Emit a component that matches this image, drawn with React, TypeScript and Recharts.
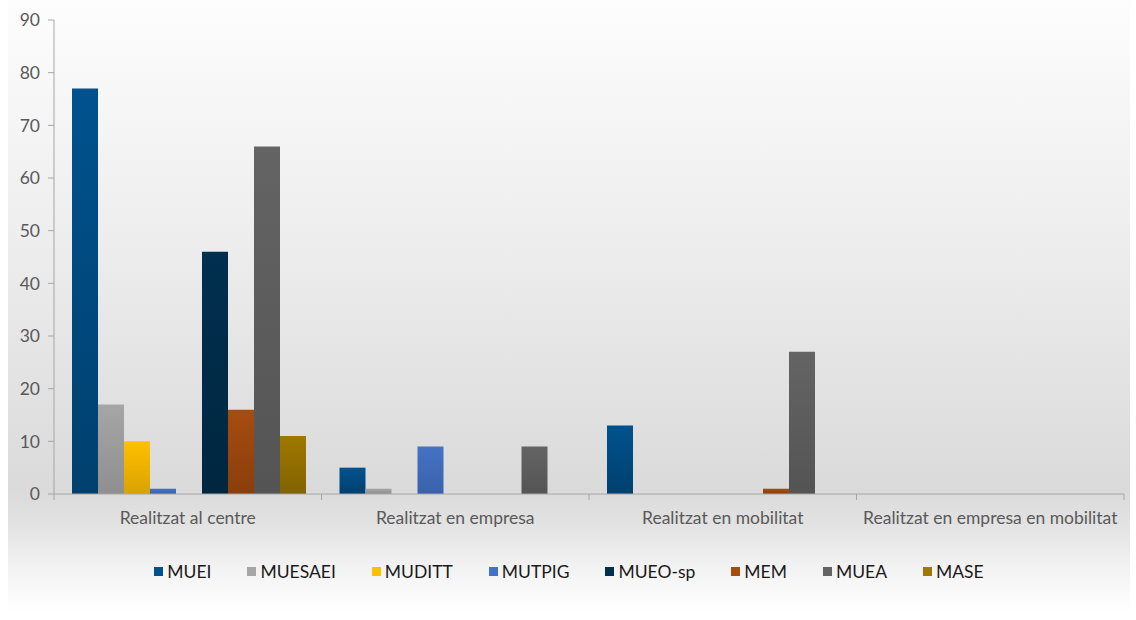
import React from 'react';
import { BarChart, Bar, XAxis, YAxis, Legend } from 'recharts';

const categories = ['Realitzat al centre', 'Realitzat en empresa', 'Realitzat en mobilitat', 'Realitzat en empresa en mobilitat'];
const seriesNames = ['MUEI', 'MUESAEI', 'MUDITT', 'MUTPIG', 'MUEO-sp', 'MEM', 'MUEA', 'MASE'];
const mueiValues = [77, 5, 13, 0];
const muesaeiValues = [17, 1, 0, 0];
const mudittValues = [10, 0, 0, 0];
const mutpigValues = [1, 9, 0, 0];
const blankValues = [0, 0, 0, 0]; // empty slot between MUTPIG and MUEO-sp in the original
const mueoValues = [46, 0, 0, 0];
const memValues = [16, 0, 1, 0];
const mueaValues = [66, 9, 27, 0];
const maseValues = [11, 0, 0, 0];
const yTicks = [0, 10, 20, 30, 40, 50, 60, 70, 80, 90];

const topColors = ['#00528e', '#a6a6a6', '#ffc000', '#4472c4', '#00304f', '#a64c10', '#646464', '#9e7800'];
const bottomColors = ['#00406e', '#8f8f8f', '#d9a200', '#3a62ab', '#002640', '#8a3e0b', '#545454', '#826300'];

const data = categories.map((name, i) => ({
  name,
  MUEI: mueiValues[i],
  MUESAEI: muesaeiValues[i],
  MUDITT: mudittValues[i],
  MUTPIG: mutpigValues[i],
  blank: blankValues[i],
  'MUEO-sp': mueoValues[i],
  MEM: memValues[i],
  MUEA: mueaValues[i],
  MASE: maseValues[i],
}));

const FONT = 'Lato, "Open Sans", sans-serif';
const AXIS_Y = 494;
const BAND = 267.5;

const CategoryTick = (props: any) => {
  const { x, payload, index } = props;
  return (
    <g>
      <line x1={x - BAND / 2} y1={AXIS_Y} x2={x - BAND / 2} y2={AXIS_Y + 6} stroke="#a6a6a6" />
      {index === categories.length - 1 && (
        <line x1={x + BAND / 2} y1={AXIS_Y} x2={x + BAND / 2} y2={AXIS_Y + 6} stroke="#a6a6a6" />
      )}
      <text x={x} y={AXIS_Y + 30} textAnchor="middle" fill="#595959" fontSize={17.5} fontFamily={FONT}>
        {payload.value}
      </text>
    </g>
  );
};

const LegendContent = () => (
  <div style={{ height: 86, display: 'flex', justifyContent: 'center', alignItems: 'flex-start', paddingTop: 27, paddingLeft: 14, boxSizing: 'border-box', fontFamily: FONT, fontSize: 17.5, color: '#1a1a1a' }}>
    {seriesNames.map((s, i) => (
      <div key={s} style={{ display: 'flex', alignItems: 'center', marginRight: i < seriesNames.length - 1 ? 36 : 0 }}>
        <span style={{ width: 9, height: 9, background: topColors[i], display: 'inline-block', marginRight: 4 }} />
        <span>{s}</span>
      </div>
    ))}
  </div>
);

export default function App() {
  const keys = ['MUEI', 'MUESAEI', 'MUDITT', 'MUTPIG', 'blank', 'MUEO-sp', 'MEM', 'MUEA', 'MASE'];
  return (
    <div style={{ position: 'absolute', left: 0, top: 0, width: 1136, height: 620, background: '#ffffff' }}>
      <div
        style={{
          position: 'absolute', left: 8, top: 0, width: 1122, height: 612,
          background: 'linear-gradient(to bottom, #fdfdfd 0%, #ededed 40%, #dadada 80%, #e3e3e3 86%, #f3f3f3 93%, #ffffff 100%)',
        }}
      />
      <div style={{ position: 'absolute', left: 0, top: 0 }}>
        <BarChart width={1136} height={620} data={data} margin={{ top: 20, right: 12, left: 0, bottom: 0 }} barCategoryGap={18} barGap={0}>
          <defs>
            {topColors.map((c, i) => (
              <linearGradient key={i} id={`g${i}`} x1="0" y1="0" x2="0" y2="1">
                <stop offset="0%" stopColor={c} />
                <stop offset="100%" stopColor={bottomColors[i]} />
              </linearGradient>
            ))}
          </defs>
          <XAxis dataKey="name" height={40} axisLine={{ stroke: '#a6a6a6' }} tickLine={false} tick={<CategoryTick />} interval={0} />
          <YAxis
            width={54}
            domain={[0, 90]}
            ticks={yTicks}
            interval={0}
            axisLine={{ stroke: '#a6a6a6' }}
            tickLine={{ stroke: '#a6a6a6' }}
            tickSize={6}
            tickMargin={8}
            tick={{ fill: '#595959', fontSize: 17.5, fontFamily: FONT }}
          />
          <Legend verticalAlign="bottom" content={<LegendContent />} />
          {keys.map((k) => {
            const si = seriesNames.indexOf(k);
            return (
              <Bar
                key={k}
                dataKey={k}
                name={k === 'blank' ? '' : k}
                legendType={k === 'blank' ? 'none' : 'square'}
                fill={si >= 0 ? `url(#g${si})` : 'transparent'}
                isAnimationActive={false}
              />
            );
          })}
        </BarChart>
      </div>
    </div>
  );
}
